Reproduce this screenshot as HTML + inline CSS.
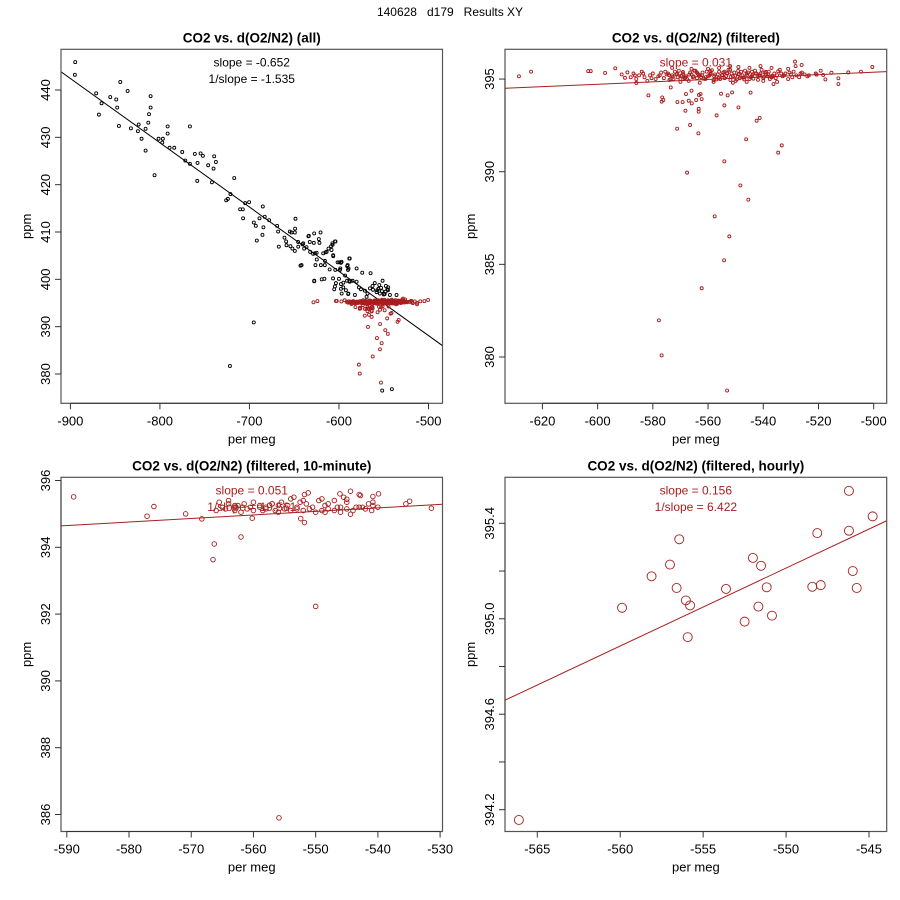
<!DOCTYPE html>
<html><head><meta charset="utf-8"><style>
body{margin:0;background:#fff}
svg{display:block;font-family:"Liberation Sans",Arial,sans-serif}
</style></head><body>
<svg id="chart" width="900" height="900" viewBox="0 0 900 900" xmlns="http://www.w3.org/2000/svg">
<rect x="0" y="0" width="900" height="900" fill="#fff"/>
<text x="450" y="16" text-anchor="middle" font-size="12" style="white-space:pre" xml:space="preserve">140628   d179   Results XY</text>
</svg>
<script>
// ---------- data ----------
const allX = [-894.6,-895.0,-844.3,-836.1,-871.2,-865.2,-855.5,-848.8,-847.7,-868.2,-845.8,-832.4,-823.7,-824.6,-820.5,-816.0,-813.0,-812.2,-810.4,-810.4,-816.0,-806.0,-801.5,-796.7,-797.4,-791.4,-791.4,-789.2,-784.0,-775.1,-771.7,-766.5,-766.5,-761.0,-754.6,-752.0,-758.0,-746.1,-739.4,-737.5,-740.1,-741.9,-758.3,-717.0,-724.1,-726.0,-721.2,-710.4,-707.4,-707.1,-704.8,-700.4,-695.1,-692.9,-691.8,-688.8,-685.1,-685.5,-682.9,-684.4,-678.0,-669.1,-668.0,-667.2,-660.9,-658.6,-659.0,-654.9,-653.0,-648.6,-649.0,-649.3,-654.2,-652.0,-649.3,-645.6,-643.0,-640.8,-638.9,-636.3,-634.1,-632.6,-628.1,-627.7,-622.5,-621.8,-620.6,-632.2,-628.9,-626.3,-624.8,-627.7,-615.1,-615.8,-611.7,-608.8,-607.3,-603.9,-606.5,-610.4,-604.1,-601.5,-597.8,-598.5,-600.0,-606.6,-619.3,-616.3,-604.5,-597.8,-597.0,-595.1,-590.3,-588.0,-589.9,-593.2,-591.0,-588.0,-589.5,-695.2,-721.8,-633.6,-639.9,-645.5,-625.0,-626.9,-617.6,-613.8,-607.1,-604.5,-608.3,-606.4,-615.7,-599.7,-597.1,-588.5,-620.2,-641.8,-627.6,-603.4,-605.3,-597.8,-595.2,-592.3,-598.9,-590.8,-589.3,-580.3,-574.0,-564.7,-588.5,-584.8,-580.3,-577.7,-575.5,-571.0,-568.1,-565.4,-562.5,-557.3,-551.3,-547.6,-545.3,-554.3,-543.1,-535.7,-589.7,-582.2,-569.2,-551.7,-540.9,-560,-555,-553,-548,-545,-558,-550,-556,-552,-546,-562,-549];
const allY = [445.9,443.2,441.7,439.8,439.3,437.2,438.5,438.0,436.3,434.8,432.4,431.9,432.7,431.3,429.7,431.8,433.1,434.9,436.3,438.7,427.2,422.0,429.7,429.7,428.9,432.3,430.8,427.8,427.8,426.9,425.1,424.4,432.3,426.5,426.6,426.1,424.6,424.1,426.0,424.8,423.4,420.5,420.8,421.4,417.0,416.7,418.0,414.8,414.8,412.9,416.1,416.3,412.0,411.3,408.2,412.9,415.4,409.4,413.2,411.0,412.5,411.3,410.1,406.9,408.8,407.2,408.0,410.1,409.9,412.8,410.7,409.9,407.0,406.5,406.0,407.9,402.9,407.4,406.5,406.8,409.1,407.9,407.7,409.7,408.5,407.7,409.9,405.8,405.4,403.0,404.2,399.6,405.7,403.0,406.5,407.0,407.6,408.0,405.1,402.1,402.0,403.6,403.5,402.3,400.1,400.2,400.0,400.1,398.5,398.0,397.0,399.3,403.0,404.4,402.0,400.8,399.7,399.5,397.0,390.9,381.7,409.2,407.6,406.9,405.6,405.5,405.5,405.8,407.3,408.0,406.2,404.9,403.9,403.6,403.7,404.4,403.0,403.0,399.7,399.2,397.9,399.0,398.3,397.7,402.0,402.8,402.3,402.3,401.4,401.3,399.7,399.7,399.5,398.3,397.9,397.6,397.0,398.1,398.6,397.7,399.7,398.6,397.7,397.0,396.7,396.7,396.9,396.7,396.3,376.5,376.8,399.2,398.8,398.2,397.4,398.3,397.3,396.8,398.0,397.5,397.9,397.8,396.9];
const filtX = [-628.5,-624.1,-603.4,-602.5,-597.3,-593.6,-591.3,-589.2,-590.1,-586.0,-581.6,-576.6,-576.2,-576.8,-573.5,-571.1,-569.2,-568.2,-568.0,-567.0,-565.9,-566.0,-563.3,-562.7,-564.3,-562.3,-563.4,-563.4,-571.2,-566.5,-563.5,-556.9,-555.3,-552.9,-551.3,-554.1,-549.0,-544.6,-546.2,-542.4,-541.3,-534.6,-533.3,-536.3,-517.5,-512.8,-512.8,-509.2,-504.6,-500.5,-528.5,-528.3,-526.1,-518.3,-515.3,-520.7,-519.2,-554.1,-567.6,-548.3,-545.4,-557.6,-552.3,-554.2,-562.3,-577.8,-576.8,-553.1,
-588,-587,-586,-585,-584,-583,-582,-581,-580,-579,-578,-577,-576,-575,-574,-573,-572,-571,-570,-569,-568,-567,-566,-565,-564,-563,-562,-561,-560,-559,-558,-557,-556,-555,-554,-553,-552,-551,-550,-549,-548,-547,-546,-545,-544,-543,-542,-541,-540,-539,-538,-537,-536,-535,-534,-533,-532,-531,-530,-529,-528,-527,-526,-525,-524,
-586.5,-583.5,-580.5,-577.5,-574.5,-571.5,-568.5,-565.5,-562.5,-559.5,-556.5,-553.5,-550.5,-547.5,-544.5,-541.5,-538.5,-535.5,-532.5,-529.5,-526.5,-523.5,-521,
-575.5,-572.5,-569.5,-566.5,-563.5,-560.5,-557.5,-554.5,-551.5,-548.5,-545.5,-542.5,-539.5,-536.5,-533.5,-530.5,
-573,-566,-560,-556,-552,-549,-545,-541,-537,-531,-570,-563,-558,-551,-546,-540,-535,
-574.2,-572.8,-571.2,-569.8,-568.2,-566.8,-565.2,-563.8,-562.2,-560.8,-559.2,-557.8,-556.2,-554.8,-553.2,-551.8,-550.2,-548.8,-547.2,-545.8,-544.2,-542.8,-541.2,-539.8,-538.2,-536.8,
-573.6,-570.6,-567.6,-564.6,-561.6,-558.6,-555.6,-552.6,-549.6,-546.6,-543.6,-540.6,-537.6,-534.6,
-569.1,-564.1,-559.1,-554.1,-549.1,-544.1,-539.1,-556.9,-551.9,-546.9,-541.9];
const filtY = [395.15,395.40,395.43,395.43,395.33,395.58,395.25,395.36,395.07,394.79,394.12,394.01,393.87,393.78,394.55,393.76,393.76,393.29,394.19,393.83,393.69,394.37,394.14,394.19,393.87,393.92,393.39,393.24,392.32,392.52,392.07,393.04,394.21,394.12,394.28,393.58,393.47,394.27,391.75,392.75,392.90,391.03,391.42,394.73,394.98,395.04,394.73,395.36,395.40,395.65,395.94,395.70,395.76,395.22,395.34,395.24,395.45,390.56,389.95,389.26,388.49,387.59,386.51,385.22,383.71,381.98,380.09,378.19,
395.1,395.3,395.0,395.2,395.4,395.1,394.9,395.2,395.3,395.0,395.15,395.35,395.05,395.25,394.95,395.2,395.4,395.1,395.0,395.3,395.15,394.9,395.25,395.45,395.05,395.2,395.35,395.0,395.15,395.3,394.95,395.1,395.4,395.2,395.05,395.3,395.5,395.15,394.9,395.25,395.4,395.1,395.3,395.0,395.2,395.45,395.15,395.3,395.05,395.25,395.4,395.1,395.3,395.2,395.5,395.15,395.3,395.0,395.25,395.4,395.2,395.1,395.35,395.25,395.15,
395.2,395.3,395.05,395.2,395.3,395.25,395.05,395.1,395.1,395.2,395.25,395.15,395.35,395.2,395.1,395.2,395.15,395.05,395.2,395.1,395.3,395.2,395.3,
395.4,395.0,395.15,395.35,395.25,395.4,395.25,395.35,395.3,395.05,395.35,395.3,395.35,395.15,395.3,395.35,
395.6,395.55,395.55,395.6,395.7,395.65,395.6,395.7,395.6,395.55,394.85,394.8,394.85,394.8,394.85,394.9,394.85,
395.22,395.12,395.28,395.18,395.08,395.24,395.14,395.3,395.2,395.1,395.26,395.16,395.06,395.22,395.32,395.12,395.18,395.28,395.08,395.22,395.14,395.3,395.2,395.12,395.26,395.18,
395.0,395.45,395.0,395.45,395.02,395.48,395.0,395.5,394.98,395.45,395.02,395.5,395.0,395.42,
395.38,395.36,395.42,395.4,395.44,395.4,395.38,394.98,394.95,394.98,394.96];
const tenX = [-588.9,-577.1,-576.0,-570.9,-568.3,-566.3,-566.5,-562.0,-560.2,-552.4,-551.8,-531.4,-535.5,-534.9,-539.9,-540.8,-540.8,-540.8,-543.0,-542.8,-544.4,-546.1,-545.0,-544.4,-551.8,-551.2,-550.0,-555.9,
-566,-565,-564.5,-564,-563,-562.5,-562,-561,-560.5,-560,-559,-558.5,-558,-557,-556.5,-556,-555,-554.5,-554,-553,-552.5,-552,-551,-550.5,-550,-549,-548.5,-548,-547,-546.5,-546,-545,-544,-543,-542,-541,-540,
-565.5,-564,-563,-561.5,-560,-558,-557,-555.5,-554,-553,-551.5,-549.5,-548,-546,-545,-543.5,-541.5,
-563,-559,-556,-553.5,-552,-549,-547,-545.5,-548.5,-542.5];
const tenY = [395.51,394.93,395.22,395.0,394.85,394.10,393.63,394.31,394.87,394.86,394.74,395.17,395.30,395.38,395.60,395.52,395.35,395.25,395.58,395.55,395.68,395.60,395.44,394.99,395.58,395.63,392.23,385.9,
395.1,395.2,395.15,395.3,395.1,395.25,395.05,395.15,395.2,395.1,395.25,395.1,395.15,395.3,395.1,395.05,395.15,395.25,395.1,395.2,395.35,395.1,395.15,395.2,395.05,395.1,395.25,395.15,395.1,395.2,395.05,395.15,395.1,395.2,395.15,395.1,395.2,
395.35,395.4,395.2,395.3,395.35,395.2,395.3,395.35,395.45,395.15,395.3,395.4,395.3,395.2,395.35,395.2,395.3,
395.25,395.2,395.25,395.5,395.4,395.45,395.4,395.5,395.05,395.2];
const hourX = [-566.11,-559.89,-558.11,-557.0,-556.6,-556.44,-556.04,-555.79,-555.93,-553.62,-552.5,-552.0,-551.51,-551.67,-551.17,-550.85,-548.42,-547.91,-548.12,-546.21,-546.21,-545.98,-545.74,-544.78];
const hourY = [394.157,395.046,395.178,395.227,395.129,395.333,395.077,395.056,394.923,395.125,394.988,395.255,395.222,395.051,395.132,395.013,395.134,395.141,395.359,395.536,395.369,395.2,395.129,395.429];
// fit lines: y = intercept + slope * x
const fitIntercepts = [320.21, 398.625, 400.91, 413.181];
const fitSlopes = [-0.1358, 0.00651, 0.01061, 0.03267];
// tick labels
const p1XTicks = [-900,-800,-700,-600,-500];
const p1YTicks = [380,390,400,410,420,430,440];
const p2XTicks = [-620,-600,-580,-560,-540,-520,-500];
const p2YTicks = [380,385,390,395];
const p3XTicks = [-590,-580,-570,-560,-550,-540,-530];
const p3YTicks = [386,388,390,392,394,396];
const p4XTicks = [-565,-560,-555,-550,-545];
const p4YTicks = [394.2,394.4,394.6,394.8,395.0,395.2,395.4];
const p4YLabels = ["394.2","","394.6","","395.0","","395.4"];
const titles = ["CO2 vs. d(O2/N2) (all)","CO2 vs. d(O2/N2) (filtered)","CO2 vs. d(O2/N2) (filtered, 10-minute)","CO2 vs. d(O2/N2) (filtered, hourly)"];
const notes = [["slope = -0.652","1/slope = -1.535"],["slope = 0.031"],["slope = 0.051","1/slope = 19.561"],["slope = 0.156","1/slope = 6.422"]];

// ---------- drawing ----------
const NS="http://www.w3.org/2000/svg";
const svg=document.getElementById('chart');
const RED="#a81e1e";
function el(tag,attrs,parent){const e=document.createElementNS(NS,tag);for(const k in attrs)e.setAttribute(k,attrs[k]);(parent||svg).appendChild(e);return e;}
function linScale(d0,d1,r0,r1){return v=>r0+(v-d0)*(r1-r0)/(d1-d0);}

function panel(idx,box,xs,ys,xticks,yticks,ylabels,series,lineColor,noteColor){
  const g=el('g',{});
  
  
  const cx=(box.L+box.R)/2;
  const t=el('text',{x:cx,y:box.T-7,'text-anchor':'middle','font-size':13.5,'font-weight':'bold'},g);
  t.textContent=titles[idx];
  
  
  const clip=el('clipPath',{id:'clip'+idx},g);
  el('rect',{x:box.L,y:box.T,width:box.R-box.L,height:box.B-box.T},clip);
  const pg=el('g',{'clip-path':'url(#clip'+idx+')'},g);
  const xa=xs.invert(box.L), xb=xs.invert(box.R);
  const ln=el('line',{x1:box.L,y1:ys(fitIntercepts[idx]+fitSlopes[idx]*xa),x2:box.R,y2:ys(fitIntercepts[idx]+fitSlopes[idx]*xb),stroke:lineColor,'stroke-width':1},pg);
  
  
  series.forEach(s=>{
    for(let i=0;i<s.x.length;i++){
      const c=el('circle',{cx:xs(s.x[i]),cy:ys(s.y[i]),r:s.r,fill:'none',stroke:s.color,'stroke-width':s.w},pg);
      
      
    }
  });
  notes[idx].forEach((n,i)=>{
    const tx=el('text',{x:cx,y:box.T+17+i*16.5,'text-anchor':'middle','font-size':12,fill:noteColor},g);
    tx.textContent=n;
    
    
  });
  const bx=el('rect',{x:box.L,y:box.T,width:box.R-box.L,height:box.B-box.T,fill:'none',stroke:'#555','stroke-width':1.2},g);
  
  
  const xg=el('g',{},g);
  
  
  el('line',{x1:xs(xticks[0]),x2:xs(xticks[xticks.length-1]),y1:box.B,y2:box.B,stroke:'#333'},xg);
  xticks.forEach(v=>{
    el('line',{x1:xs(v),x2:xs(v),y1:box.B,y2:box.B+6,stroke:'#333'},xg);
    const tx=el('text',{x:xs(v),y:box.B+22,'text-anchor':'middle','font-size':13},xg);
    tx.textContent=String(v);
  });
  const xl=el('text',{x:cx,y:box.B+40,'text-anchor':'middle','font-size':13},g);
  xl.textContent='per meg';
  
  
  const yg=el('g',{},g);
  
  
  el('line',{x1:box.L,x2:box.L,y1:ys(yticks[0]),y2:ys(yticks[yticks.length-1]),stroke:'#333'},yg);
  yticks.forEach((v,i)=>{
    el('line',{x1:box.L-6,x2:box.L,y1:ys(v),y2:ys(v),stroke:'#333'},yg);
    const lab=ylabels?ylabels[i]:String(v);
    if(lab){const tx=el('text',{x:box.L-11,y:ys(v),'text-anchor':'middle','font-size':13,transform:`rotate(-90 ${box.L-11} ${ys(v)})`},yg);tx.textContent=lab;}
  });
  const yl=el('text',{x:box.L-30,y:(box.T+box.B)/2,'text-anchor':'middle','font-size':13,transform:`rotate(-90 ${box.L-30} ${(box.T+box.B)/2})`},g);
  yl.textContent='ppm';
  
  
}
function mk(d0,d1,r0,r1){const f=linScale(d0,d1,r0,r1);f.invert=p=>d0+(p-r0)*(d1-d0)/(r1-r0);return f;}

const b1={L:61,R:442.5,T:49.3,B:403.3}, b2={L:505,R:886.7,T:49.3,B:403.3};
const b3={L:61,R:442.5,T:477.3,B:831.5}, b4={L:505,R:886.7,T:477.3,B:831.5};
panel(0,b1,mk(-900,-500,70.4,428.5),mk(440,380,90,374),p1XTicks,p1YTicks,null,
  [{x:allX,y:allY,r:1.5,color:'#000',w:0.9},{x:filtX,y:filtY,r:1.5,color:RED,w:0.9}],'#000','#000');
panel(1,b2,mk(-620,-500,542.4,873.7),mk(395,380,79.05,357),p2XTicks,p2YTicks,null,
  [{x:filtX,y:filtY,r:1.5,color:RED,w:0.9}],RED,RED);
panel(2,b3,mk(-590,-530,66.8,440.1),mk(396,386,480.5,814.5),p3XTicks,p3YTicks,null,
  [{x:tenX,y:tenY,r:2.3,color:RED,w:0.9}],RED,RED);
panel(3,b4,mk(-565,-545,537.3,869),mk(395.4,394.2,523.3,809.7),p4XTicks,p4YTicks,p4YLabels,
  [{x:hourX,y:hourY,r:4.5,color:RED,w:0.9}],RED,RED);
</script>
</body></html>
